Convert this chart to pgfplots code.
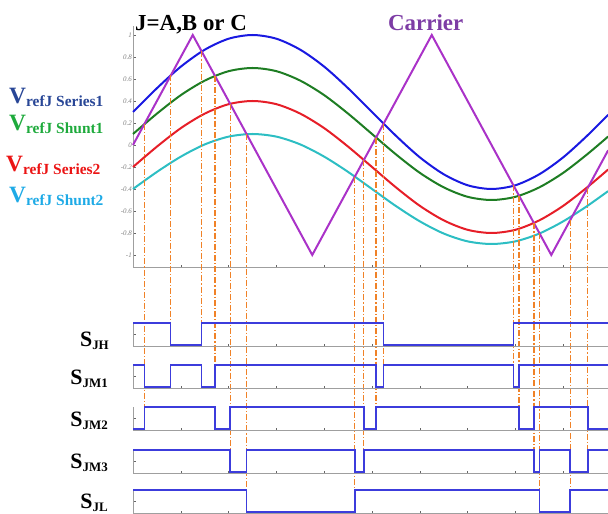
\documentclass[border=0pt]{standalone}
\usepackage{fontspec}
\setmainfont{Liberation Serif}
\usepackage{pgfplots}
\pgfplotsset{compat=1.18}
\definecolor{cblue}{RGB}{25,25,225}
\definecolor{cgreen}{RGB}{30,125,35}
\definecolor{cred}{RGB}{230,30,40}
\definecolor{ccyan}{RGB}{45,190,195}
\definecolor{ccarrier}{RGB}{170,50,200}
\definecolor{tcarrier}{RGB}{125,60,165}
\definecolor{tser1}{RGB}{40,70,150}
\definecolor{tsh1}{RGB}{30,170,60}
\definecolor{tser2}{RGB}{235,20,20}
\definecolor{tsh2}{RGB}{30,170,230}
\definecolor{dorange}{RGB}{240,130,40}
\definecolor{sigblue}{RGB}{60,60,220}
\newcommand{\Vlab}[1]{{\fontsize{23.5}{23.5}\selectfont V}\raisebox{-3bp}{\fontsize{15.5}{15.5}\selectfont #1}}
\newcommand{\Slab}[1]{{\fontsize{22}{22}\selectfont S}\raisebox{-3bp}{\fontsize{13}{13}\selectfont #1}}
\pgfplotsset{
  common/.style={
    scale only axis, width=475bp, anchor=south west,
    xmin=0, xmax=9.937,
    axis x line*=bottom, axis y line*=left,
    axis line style={gray!75, line width=0.6bp, -},
    xtick={1,2,3,4,5,6,7,8,9}, xticklabels={},
    tick align=inside, major tick length=2.5bp,
    tick style={black!60, line width=0.5bp},
  },
  sigaxis/.style={common, height=23.1bp, ymin=-0.05, ymax=1,
    ytick={0.5}, yticklabels={}},
  sig/.style={sigblue, line width=1.4bp, const plot},
  dl/.style={dorange, line width=1.2bp, dash pattern=on 6bp off 2bp on 1.2bp off 2bp, forget plot},
}
\begin{document}
\begin{tikzpicture}
\path[use as bounding box] (0,0) rectangle (608bp,514bp);
\begin{axis}[common, height=240.9bp, at={(133bp,246.9bp)},
  ymin=-1.11, ymax=1.08, clip=false,
  ytick={-1,-0.8,-0.6,-0.4,-0.2,0,0.2,0.4,0.6,0.8,1},
  yticklabels={-1,-0.8,-0.6,-0.4,-0.2,0,0.2,0.4,0.6,0.8,1},
  yticklabel style={font=\fontsize{7}{7}\selectfont\itshape, text=gray, inner sep=1bp}]
\addplot[cblue, line width=2bp, smooth] coordinates {(0,0.3)(0.5,0.516)(1,0.712)(1.5,0.866)(2,0.966)(2.5,1)(3,0.966)(3.5,0.866)(4,0.712)(4.5,0.516)(5,0.3)(5.5,0.084)(6,-0.112)(6.5,-0.266)(7,-0.366)(7.5,-0.4)(8,-0.366)(8.5,-0.266)(9,-0.112)(9.5,0.084)(9.94,0.274)};
\addplot[cgreen, line width=2bp, smooth] coordinates {(0,0.1)(0.5,0.285)(1,0.453)(1.5,0.585)(2,0.671)(2.5,0.7)(3,0.671)(3.5,0.585)(4,0.453)(4.5,0.285)(5,0.1)(5.5,-0.085)(6,-0.253)(6.5,-0.385)(7,-0.471)(7.5,-0.5)(8,-0.471)(8.5,-0.385)(9,-0.253)(9.5,-0.085)(9.94,0.077)};
\addplot[cred, line width=2bp, smooth] coordinates {(0,-0.2)(0.5,-0.015)(1,0.153)(1.5,0.285)(2,0.371)(2.5,0.4)(3,0.371)(3.5,0.285)(4,0.153)(4.5,-0.015)(5,-0.2)(5.5,-0.385)(6,-0.553)(6.5,-0.685)(7,-0.771)(7.5,-0.8)(8,-0.771)(8.5,-0.685)(9,-0.553)(9.5,-0.385)(9.94,-0.223)};
\addplot[ccyan, line width=2bp, smooth] coordinates {(0,-0.4)(0.5,-0.245)(1,-0.106)(1.5,0.005)(2,0.076)(2.5,0.1)(3,0.076)(3.5,0.005)(4,-0.106)(4.5,-0.245)(5,-0.4)(5.5,-0.555)(6,-0.694)(6.5,-0.805)(7,-0.876)(7.5,-0.9)(8,-0.876)(8.5,-0.805)(9,-0.694)(9.5,-0.555)(9.94,-0.419)};
\addplot[ccarrier, line width=2bp] coordinates {(0,0)(1.25,1)(3.75,-1)(6.25,1)(8.75,-1)(9.94,-0.048)};
\addplot[dl] coordinates {(0.237,0.19)(0.237,-2.382)};
\addplot[dl] coordinates {(0.79,0.632)(0.79,-1.618)};
\addplot[dl] coordinates {(1.437,0.85)(1.437,-1.618)};
\addplot[dl] coordinates {(1.714,0.629)(1.714,-2.0)};
\addplot[dl] coordinates {(2.033,0.374)(2.033,-2.773)};
\addplot[dl] coordinates {(2.377,0.098)(2.377,-3.145)};
\addplot[dl] coordinates {(4.64,-0.288)(4.64,-3.145)};
\addplot[dl] coordinates {(4.83,-0.136)(4.83,-2.773)};
\addplot[dl] coordinates {(5.085,0.068)(5.085,-2.382)};
\addplot[dl] coordinates {(5.243,0.194)(5.243,-2.0)};
\addplot[dl] coordinates {(7.96,-0.368)(7.96,-2.0)};
\addplot[dl] coordinates {(8.075,-0.46)(8.075,-2.382)};
\addplot[dl] coordinates {(8.39,-0.712)(8.39,-2.773)};
\addplot[dl] coordinates {(8.505,-0.804)(8.505,-3.145)};
\addplot[dl] coordinates {(9.145,-0.684)(9.145,-3.145)};
\addplot[dl] coordinates {(9.515,-0.388)(9.515,-2.773)};
\end{axis}
\begin{axis}[sigaxis, at={(133bp,167.9bp)}]
\addplot[sig] coordinates {(0,1)(0.79,0)(1.437,1)(5.243,0)(7.96,1)(9.94,1)};
\end{axis}
\begin{axis}[sigaxis, at={(133bp,125.9bp)}]
\addplot[sig] coordinates {(0,1)(0.237,0)(0.79,1)(1.437,0)(1.714,1)(5.085,0)(5.243,1)(7.96,0)(8.075,1)(9.94,1)};
\end{axis}
\begin{axis}[sigaxis, at={(133bp,83.9bp)}]
\addplot[sig] coordinates {(0,0)(0.237,1)(1.714,0)(2.033,1)(4.83,0)(5.085,1)(8.075,0)(8.39,1)(9.515,0)(9.94,0)};
\end{axis}
\begin{axis}[sigaxis, at={(133bp,40.9bp)}]
\addplot[sig] coordinates {(0,1)(2.033,0)(2.377,1)(4.64,0)(4.83,1)(8.39,0)(8.505,1)(9.145,0)(9.515,1)(9.94,1)};
\end{axis}
\begin{axis}[sigaxis, at={(133bp,0.9bp)}]
\addplot[sig] coordinates {(0,1)(2.377,0)(4.64,1)(8.505,0)(9.145,1)(9.94,1)};
\end{axis}
\node[anchor=base west, inner sep=0, font=\fontsize{23}{23}\selectfont\bfseries] at (135bp,483bp) {J=A,B or C};
\node[anchor=base west, inner sep=0, text=tcarrier, font=\fontsize{23}{23}\selectfont\bfseries] at (388bp,483bp) {Carrier};
\node[anchor=base west, inner sep=0, text=tser1, font=\bfseries] at (9bp,410bp) {\Vlab{refJ Series1}};
\node[anchor=base west, inner sep=0, text=tsh1, font=\bfseries] at (9bp,383bp) {\Vlab{refJ Shunt1}};
\node[anchor=base west, inner sep=0, text=tser2, font=\bfseries] at (6bp,342bp) {\Vlab{refJ Series2}};
\node[anchor=base west, inner sep=0, text=tsh2, font=\bfseries] at (9bp,311bp) {\Vlab{refJ Shunt2}};
\node[anchor=base east, inner sep=0, font=\bfseries] at (109bp,167bp) {\Slab{JH}};
\node[anchor=base east, inner sep=0, font=\bfseries] at (108bp,129bp) {\Slab{JM1}};
\node[anchor=base east, inner sep=0, font=\bfseries] at (108bp,87bp) {\Slab{JM2}};
\node[anchor=base east, inner sep=0, font=\bfseries] at (108bp,45bp) {\Slab{JM3}};
\node[anchor=base east, inner sep=0, font=\bfseries] at (108bp,6bp) {\Slab{JL}};
\end{tikzpicture}
\end{document}
